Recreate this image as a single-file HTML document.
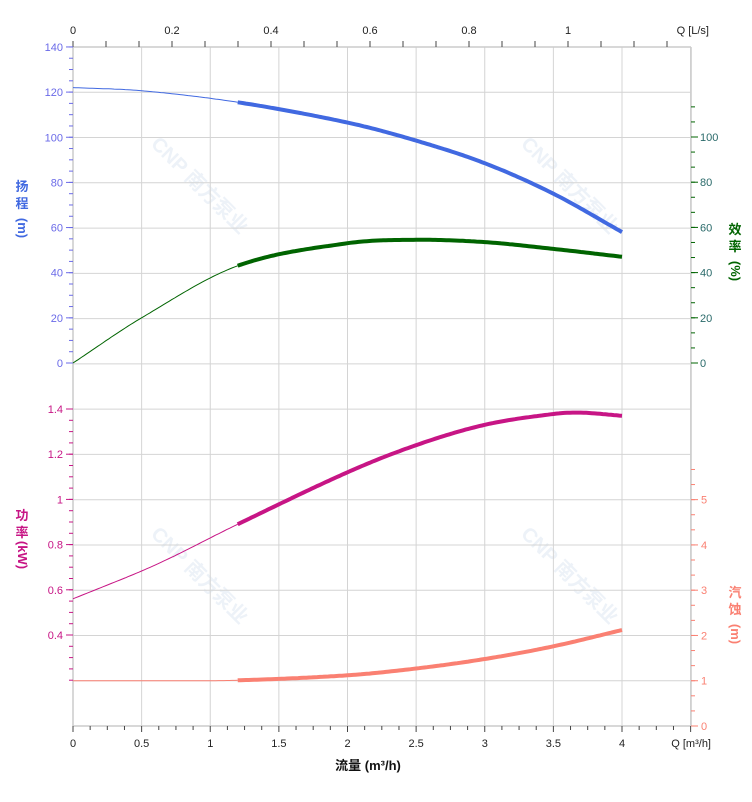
<!DOCTYPE html>
<html><head><meta charset="utf-8"><style>
body{margin:0;background:#fff;width:752px;height:797px;overflow:hidden}
svg text{font-family:"Liberation Sans","Noto Sans CJK SC",sans-serif}
</style></head><body>
<svg id="s" width="752" height="797" xmlns="http://www.w3.org/2000/svg"></svg>
<script>
const s=document.getElementById('s');let h='';
const X0=73,XU=137.25,X=q=>X0+q*XU;
const L=(x1,y1,x2,y2,c,w)=>h+=`<line x1="${x1}" y1="${y1}" x2="${x2}" y2="${y2}" stroke="${c}" stroke-width="${w}"/>`;
const T=(x,y,t,c,a,sz,extra)=>h+=`<text x="${x}" y="${y}" fill="${c}" font-size="${sz||11}" text-anchor="${a||'middle'}" ${extra||''}>${t}</text>`;
// watermarks
[[195,190],[565,190],[195,580],[565,580]].forEach(([x,y])=>T(x,y,'CNP 南方泵业','#edf2f8','middle',20,`font-weight="bold" transform="rotate(45 ${x} ${y})"`));
// grid
for(let i=0;i<=15;i++){let y=47+i*45.27;L(73,y,691,y,'#d4d4d4',1);}
for(let i=1;i<=9;i++){L(X(i*0.5),47,X(i*0.5),726,'#d4d4d4',1);}
// axes
L(73,47,73,726,'#ccc',1.5);L(691,47,691,726,'#ccc',1.5);L(73,47,691,47,'#ccc',1.5);L(73,726,691,726,'#ccc',1.5);
// top ticks
for(let x=73;x<=691;x+=33){L(x,41,x,47,'#444',1);}
['0','0.2','0.4','0.6','0.8','1'].forEach((t,i)=>T(73+i*99,34,t,'#222'));
T(709,34,'Q [L/s]','#222','end');
// bottom ticks
for(let i=0;i<=36;i++){let x=X(i/8);L(x,726,x,i%4==0?732:730,'#444',1);}
['0','0.5','1','1.5','2','2.5','3','3.5','4'].forEach((t,i)=>T(X(i*0.5),747,t,'#222'));
T(711,747,'Q [m³/h]','#222','end');
T(368,770,'流量 (m³/h)','#111','middle',13,'font-weight="bold"');
// left head axis
const HY=v=>363-v*2.2575;
for(let v=0;v<=140;v+=5){L(69,HY(v),73,HY(v),'#6a6ae8',1);}
for(let v=0;v<=140;v+=20){L(66,HY(v),73,HY(v),'#6a6ae8',1);T(63,HY(v)+4,v,'#6a6ae8','end');}
const PY=p=>409+(1.4-p)*226;
for(let p=0.2;p<=1.401;p+=0.05){L(69,PY(p),73,PY(p),'#c71585',1);}
[0.4,0.6,0.8,1,1.2,1.4].forEach(p=>{L(66,PY(p),73,PY(p),'#c71585',1);T(63,PY(p)+4,p,'#c71585','end');});
// right efficiency
const EY=v=>363-v*2.26;
for(let v=0;v<=120;v+=20/3){L(691,EY(v),695,EY(v),'#006400',1);}
for(let v=0;v<=100;v+=20){L(691,EY(v),698,EY(v),'#006400',1);T(700,EY(v)+4,v,'#2a6a6a','start');}
const NY=n=>726-n*45.27;
for(let n=0;n<=5.7;n+=1/3){L(691,NY(n),695,NY(n),'#fa8072',1);}
for(let n=0;n<=5;n++){L(691,NY(n),698,NY(n),'#fa8072',1);T(701,NY(n)+4,n,'#fa8072','start');}
// axis titles
const vt=(x,y1,chars,c)=>{chars.forEach((ch,i)=>T(x,y1+i*17,ch,c,'middle',13,'font-weight="bold"'));};
vt(22,191,['扬','程'],'#4169e1');T(22,228,'(m)','#4169e1','middle',13,'font-weight="bold" transform="rotate(90 22 228)" dy="4"');
vt(22,520,['功','率'],'#c71585');T(22,555,'(kW)','#c71585','middle',13,'font-weight="bold" transform="rotate(90 22 555)" dy="4"');
vt(735,234,['效','率'],'#006400');T(735,271,'(%)','#006400','middle',13,'font-weight="bold" transform="rotate(90 735 271)" dy="4"');
vt(735,597,['汽','蚀'],'#fa8072');T(735,634,'(m)','#fa8072','middle',13,'font-weight="bold" transform="rotate(90 735 634)" dy="4"');
// curves
function interp(pts,q){for(let i=0;i<pts.length-1;i++){let [a,b]=[pts[i],pts[i+1]];if(q<=b[0]){let p0=pts[i-1]||a,p3=pts[i+2]||b;let t=(q-a[0])/(b[0]-a[0]);let m1=(b[1]-p0[1])/(b[0]-p0[0])*(b[0]-a[0]),m2=(p3[1]-a[1])/(p3[0]-a[0])*(b[0]-a[0]);let t2=t*t,t3=t2*t;return (2*t3-3*t2+1)*a[1]+(t3-2*t2+t)*m1+(-2*t3+3*t2)*b[1]+(t3-t2)*m2;}}return pts[pts.length-1][1];}
function curve(pts,Y,c){let thin='',thick='';for(let q=0;q<=4.0001;q+=0.02){let p=X(q).toFixed(1)+','+Y(interp(pts,q)).toFixed(1)+' ';if(q<=1.2001)thin+=p;if(q>=1.1999)thick+=p;}
h+=`<polyline points="${thin}" fill="none" stroke="${c}" stroke-width="1"/><polyline points="${thick}" fill="none" stroke="${c}" stroke-width="4"/>`;}
curve([[0,122],[0.5,120.6],[1.2,115.5],[2,106.5],[2.5,98.5],[3,88.5],[3.5,75],[4,58]],HY,'#4169e1');
curve([[0,0],[0.5,20],[1.2,43],[2,53],[2.5,54.5],[3,53.5],[3.5,50.5],[4,47]],EY,'#006400');
curve([[0,0.56],[0.6,0.71],[1.2,0.89],[2,1.12],[2.5,1.24],[3,1.33],[3.5,1.378],[3.7,1.384],[4,1.37]],PY,'#c71585');
curve([[0,1],[0.6,1],[1.2,1.01],[2,1.12],[2.5,1.27],[3,1.48],[3.5,1.76],[4,2.12]],NY,'#fa8072');
s.innerHTML=h;
</script>
</body></html>
